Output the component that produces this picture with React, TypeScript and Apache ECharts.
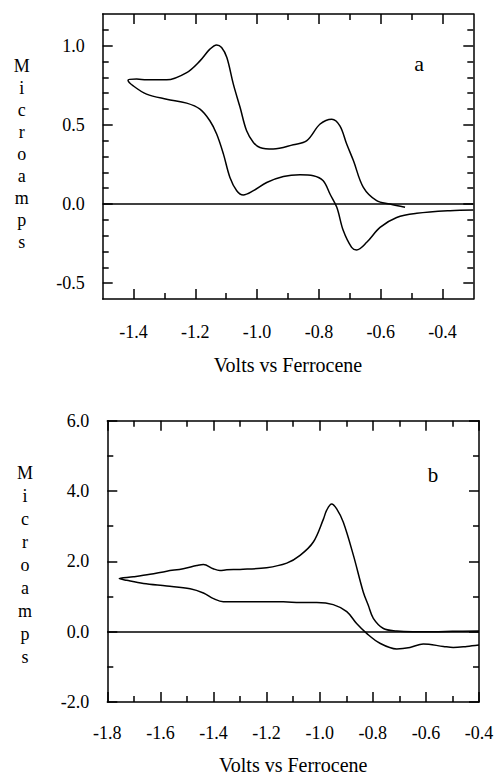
import React, { useEffect, useRef } from "react";
import * as echarts from "echarts";

// ---- Panel a data (scan path order) ----
const aVolts = [
  -0.521, -0.57, -0.613, -0.656, -0.688, -0.71, -0.732, -0.758, -0.796, -0.839, -0.883,
  -0.948, -0.991, -1.012, -1.034, -1.055, -1.077, -1.098, -1.115, -1.131, -1.153, -1.185,
  -1.228, -1.293, -1.358, -1.39, -1.418,
  -1.401, -1.358, -1.293, -1.228, -1.185, -1.153, -1.131, -1.109, -1.088, -1.066, -1.045,
  -1.012, -0.969, -0.915, -0.861, -0.818, -0.786, -0.764, -0.742, -0.721, -0.694, -0.678,
  -0.645, -0.602, -0.548, -0.483, -0.375, -0.3,
];
const aCurrent = [
  -0.021, 0.0, 0.021, 0.105, 0.273, 0.379, 0.494, 0.536, 0.505, 0.4, 0.374,
  0.347, 0.357, 0.389, 0.462, 0.609, 0.757, 0.925, 0.988, 1.005, 0.978, 0.904,
  0.83, 0.784, 0.784, 0.789, 0.782,
  0.746, 0.694, 0.662, 0.637, 0.599, 0.526, 0.442, 0.315, 0.168, 0.084, 0.057,
  0.084, 0.136, 0.174, 0.185, 0.179, 0.147, 0.063, -0.021, -0.168, -0.274, -0.29,
  -0.242, -0.148, -0.085, -0.059, -0.042, -0.038,
];

// ---- Panel b data (scan path order) ----
const bVolts = [
  -0.4, -0.5, -0.57, -0.65, -0.71, -0.76, -0.798, -0.817, -0.836, -0.873, -0.911, -0.936,
  -0.955, -0.974, -0.986, -1.024, -1.074, -1.124, -1.2, -1.3, -1.35, -1.376, -1.401,
  -1.438, -1.463, -1.514, -1.576, -1.639, -1.702, -1.755,
  -1.727, -1.664, -1.576, -1.488, -1.438, -1.4, -1.363, -1.3, -1.137, -1.074, -1.011,
  -0.949, -0.898, -0.861, -0.823, -0.773, -0.71, -0.66, -0.61, -0.534, -0.497, -0.446, -0.4,
];
const bCurrent = [
  0.02, 0.01, 0.0, 0.0, 0.02, 0.09, 0.38, 0.75, 1.13, 2.17, 3.11, 3.49,
  3.63, 3.45, 3.2, 2.55, 2.17, 1.95, 1.82, 1.77, 1.76, 1.74, 1.79,
  1.91, 1.88, 1.79, 1.72, 1.63, 1.56, 1.51,
  1.46, 1.37, 1.3, 1.22, 1.1, 0.94, 0.85, 0.85, 0.85, 0.83, 0.83,
  0.77, 0.57, 0.23, -0.05, -0.33, -0.49, -0.45, -0.35, -0.42, -0.45, -0.42, -0.38,
];

// ---- Tick values ----
const aXMajor = [-1.4, -1.2, -1.0, -0.8, -0.6, -0.4];
const aXMinor = [-1.3, -1.1, -0.9, -0.7, -0.5];
const aYMajor = [-0.5, 0.0, 0.5, 1.0];
const aYMinor = [-0.4, -0.3, -0.2, -0.1, 0.1, 0.2, 0.3, 0.4, 0.6, 0.7, 0.8, 0.9, 1.1];
const bXMajor = [-1.8, -1.6, -1.4, -1.2, -1.0, -0.8, -0.6, -0.4];
const bXMinor = [-1.7, -1.5, -1.3, -1.1, -0.9, -0.7, -0.5];
const bYMajor = [-2.0, 0.0, 2.0, 4.0, 6.0];
const bYMinor = [-1.0, 1.0, 3.0, 5.0];

const xTitle = "Volts vs Ferrocene";
const yTitle = "Microamps";

const FONT = "Liberation Serif";
const BLACK = "#000";

function zip(xs: number[], ys: number[]) {
  return xs.map((x, i) => [x, ys[i]]);
}

function makeAxes(
  dim: "x" | "y",
  gridIndex: number,
  min: number,
  max: number,
  major: number[],
  minor: number[],
  labelMargin: number,
  name?: string,
  nameGap?: number
) {
  const pos1 = dim === "x" ? "bottom" : "left";
  const pos2 = dim === "x" ? "top" : "right";
  const base = {
    type: "value",
    gridIndex,
    min,
    max,
    splitLine: { show: false },
    axisPointer: { show: false },
  };
  const line = { show: true, onZero: false, lineStyle: { color: BLACK, width: 1.5 } };
  const noLine = { show: false, onZero: false };
  const mk = (position: string, ticks: number[], len: number, withLine: boolean, withLabel: boolean) => ({
    ...base,
    position,
    axisLine: withLine ? line : noLine,
    axisTick: {
      show: true,
      inside: true,
      length: len,
      customValues: ticks,
      lineStyle: { color: BLACK, width: 1.5 },
    },
    axisLabel: withLabel
      ? {
          show: true,
          customValues: major,
          formatter: (v: number) => v.toFixed(1),
          margin: labelMargin,
          color: BLACK,
          fontFamily: FONT,
          fontSize: 18,
        }
      : { show: false },
    ...(withLabel && name
      ? {
          name,
          nameLocation: "middle",
          nameGap,
          nameTextStyle: { color: BLACK, fontFamily: FONT, fontSize: 20 },
        }
      : {}),
  });
  return [
    mk(pos1, major, 10, true, true),
    mk(pos1, minor, 6, false, false),
    mk(pos2, major, 10, true, false),
    mk(pos2, minor, 6, false, false),
  ];
}

export default function App() {
  const ref = useRef<HTMLDivElement>(null);
  useEffect(() => {
    if (!ref.current) return;
    const chart = echarts.init(ref.current, undefined, { renderer: "svg" });
    const xAxis = [
      ...makeAxes("x", 0, -1.5, -0.3, aXMajor, aXMinor, 24, xTitle, 56),
      ...makeAxes("x", 1, -1.8, -0.4, bXMajor, bXMinor, 22, xTitle, 53),
    ];
    const yAxis = [
      ...makeAxes("y", 0, -0.6, 1.2, aYMajor, aYMinor, 18),
      ...makeAxes("y", 1, -2.0, 6.0, bYMajor, bYMinor, 18),
    ];
    const series = [
      { data: zip(aVolts, aCurrent), xAxisIndex: 0, yAxisIndex: 0 },
      { data: zip(bVolts, bCurrent), xAxisIndex: 4, yAxisIndex: 4 },
    ].map((s) => ({
      type: "line",
      ...s,
      showSymbol: false,
      symbol: "none",
      smooth: 0.35,
      lineStyle: { color: BLACK, width: 1.5 },
      silent: true,
      markLine: {
        silent: true,
        symbol: "none",
        label: { show: false },
        lineStyle: { color: BLACK, width: 1.5, type: "solid" },
        data: [{ yAxis: 0 }],
      },
    }));
    const textStyle = (text: string, size: number, lh?: number) => ({
      text,
      fontFamily: FONT,
      fontSize: size,
      ...(lh ? { lineHeight: lh } : {}),
      fill: BLACK,
      align: "center",
      verticalAlign: "middle",
    });
    chart.setOption({
      animation: false,
      backgroundColor: "#fff",
      textStyle: { fontFamily: FONT },
      grid: [
        { left: 102.7, top: 14, right: 23.7, bottom: 477 },
        { left: 107.3, top: 420.7, right: 18, bottom: 72.7 },
      ],
      xAxis,
      yAxis,
      series,
      graphic: [
        { type: "text", x: 21.7, y: 154, style: textStyle(yTitle.split("").join("\n"), 18, 22) },
        { type: "text", x: 25, y: 564.5, style: textStyle(yTitle.split("").join("\n"), 18, 23) },
        { type: "text", x: 419, y: 63, style: textStyle("a", 22) },
        { type: "text", x: 433, y: 475, style: textStyle("b", 21) },
      ],
    });
    return () => chart.dispose();
  }, []);
  return (
    <div
      ref={ref}
      style={{ position: "fixed", left: 0, top: 0, width: 497, height: 776, background: "#fff" }}
    />
  );
}
